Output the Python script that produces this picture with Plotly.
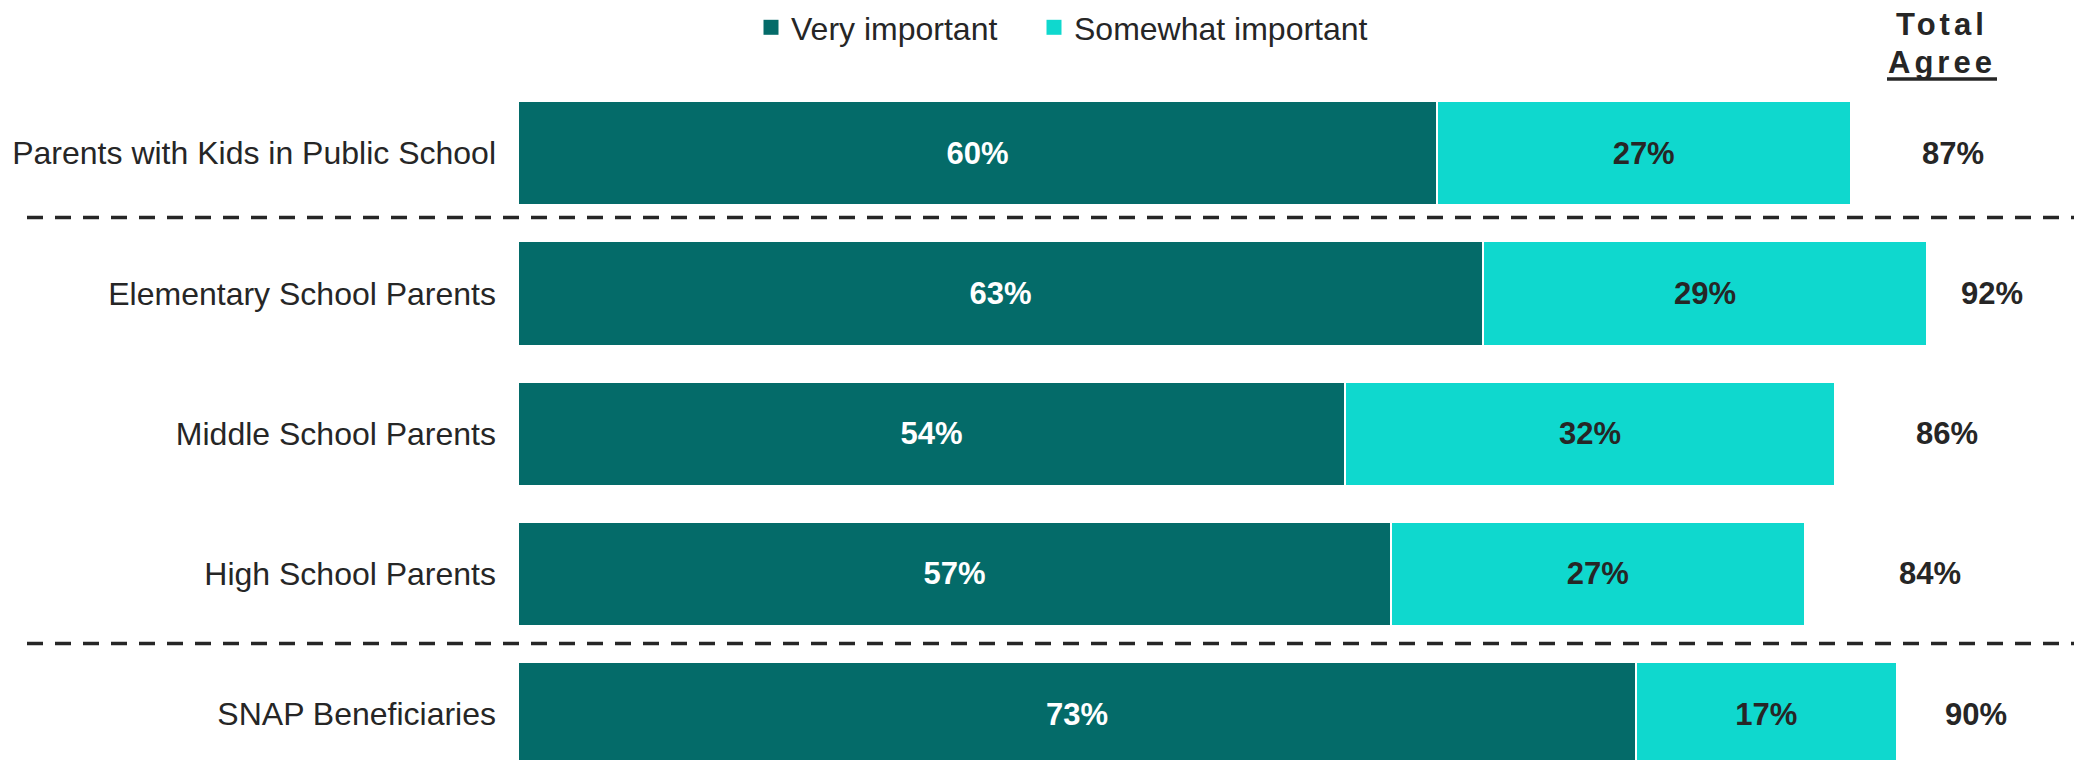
import plotly.graph_objects as go

# Survey groups and shares (%) rating the item as important
groups = [
    "Parents with Kids in Public School",
    "Elementary School Parents",
    "Middle School Parents",
    "High School Parents",
    "SNAP Beneficiaries",
]
very_important = [60, 63, 54, 57, 73]
somewhat_important = [27, 29, 32, 27, 17]
series_names = ["Very important", "Somewhat important"]
header_lines = ["Total", "Agree"]

totals = [v + s for v, s in zip(very_important, somewhat_important)]

# Layout geometry
W, H = 2074, 760
M_L, M_R, M_T, M_B = 518, 0, 80, 0
PLOT_W = W - M_L - M_R
PLOT_H = H - M_T - M_B
X_RANGE = [0, 101.6]
Y_RANGE = [4.326, -0.5]

DARK = "#046B69"
CYAN = "#0FD8CE"
INK = "#262626"
FONT = "Liberation Sans, Arial, sans-serif"

# where the "Total Agree" figures sit (x in axis units)
total_label_pos = [93.7, 96.25, 93.3, 92.2, 95.2]


def px_to_paper_x(px):
    return (px - M_L) / PLOT_W


def px_to_paper_y(py):
    return 1 - (py - M_T) / PLOT_H


fig = go.Figure()
for vals, name, color, txt, leg in [
    (very_important, series_names[0], DARK, "white", "legend"),
    (somewhat_important, series_names[1], CYAN, INK, "legend2"),
]:
    fig.add_trace(go.Bar(
        y=groups, x=vals, orientation="h", name=name, showlegend=False,
        marker=dict(color=color, line=dict(color="white", width=1.5)),
        texttemplate="%{x}%", textposition="inside", insidetextanchor="middle",
        textangle=0, constraintext="none",
        textfont=dict(family=FONT, size=31, color=txt, weight="bold"),
        hoverinfo="skip",
    ))
    # legend key: square swatch in the series colour
    fig.add_trace(go.Scatter(
        x=[None], y=[None], mode="markers", name=name, showlegend=True,
        legend=leg,
        marker=dict(symbol="square", size=15, color=color),
        hoverinfo="skip",
    ))

annotations = []
for g, t, xp in zip(groups, totals, total_label_pos):
    annotations.append(dict(
        x=xp, y=g, xref="x", yref="y", text=f"<b>{t}%</b>", showarrow=False,
        font=dict(family=FONT, size=31, color=INK), xanchor="center", yanchor="middle",
    ))

# column header
for line, ypx in [(header_lines[0], 21), (header_lines[1], 59)]:
    annotations.append(dict(
        x=px_to_paper_x(1942), y=px_to_paper_y(ypx), xref="paper", yref="paper",
        text=f"<b><span style='letter-spacing:4px'>{line}</span></b>", showarrow=False,
        font=dict(family=FONT, size=31, color=INK), xanchor="center", yanchor="middle",
    ))

shapes = [
    # underline below the header
    dict(type="line", xref="paper", yref="paper",
         x0=px_to_paper_x(1887), x1=px_to_paper_x(1997),
         y0=px_to_paper_y(76), y1=px_to_paper_y(76),
         line=dict(color=INK, width=3.5)),
]
# dashed dividers between the groups
for ypx in [215, 643]:
    shapes.append(dict(
        type="line", xref="paper", yref="paper",
        x0=px_to_paper_x(27), x1=px_to_paper_x(W),
        y0=px_to_paper_y(ypx), y1=px_to_paper_y(ypx),
        line=dict(color=INK, width=3.5, dash="16px,12px"),
    ))

legend_style = dict(
    orientation="h", y=px_to_paper_y(24),
    xanchor="left", yanchor="middle",
    font=dict(family=FONT, size=32, color=INK),
    itemsizing="trace", itemwidth=30,
    bgcolor="rgba(0,0,0,0)",
)

fig.update_layout(
    width=W, height=H, autosize=False,
    margin=dict(l=M_L, r=M_R, t=M_T, b=M_B, pad=0),
    paper_bgcolor="white", plot_bgcolor="white",
    barmode="stack", bargap=0.26,
    font=dict(family=FONT, color=INK),
    showlegend=True,
    legend=dict(x=px_to_paper_x(751), **legend_style),
    legend2=dict(x=px_to_paper_x(1034), **legend_style),
    xaxis=dict(range=X_RANGE, visible=False, fixedrange=True),
    yaxis=dict(
        range=Y_RANGE, categoryorder="array", categoryarray=groups,
        showgrid=False, zeroline=False, showline=False, ticks="",
        tickfont=dict(family=FONT, size=32, color=INK),
        ticklabelstandoff=21, fixedrange=True,
    ),
    annotations=annotations,
    shapes=shapes,
)

fig.write_html("out.html")
